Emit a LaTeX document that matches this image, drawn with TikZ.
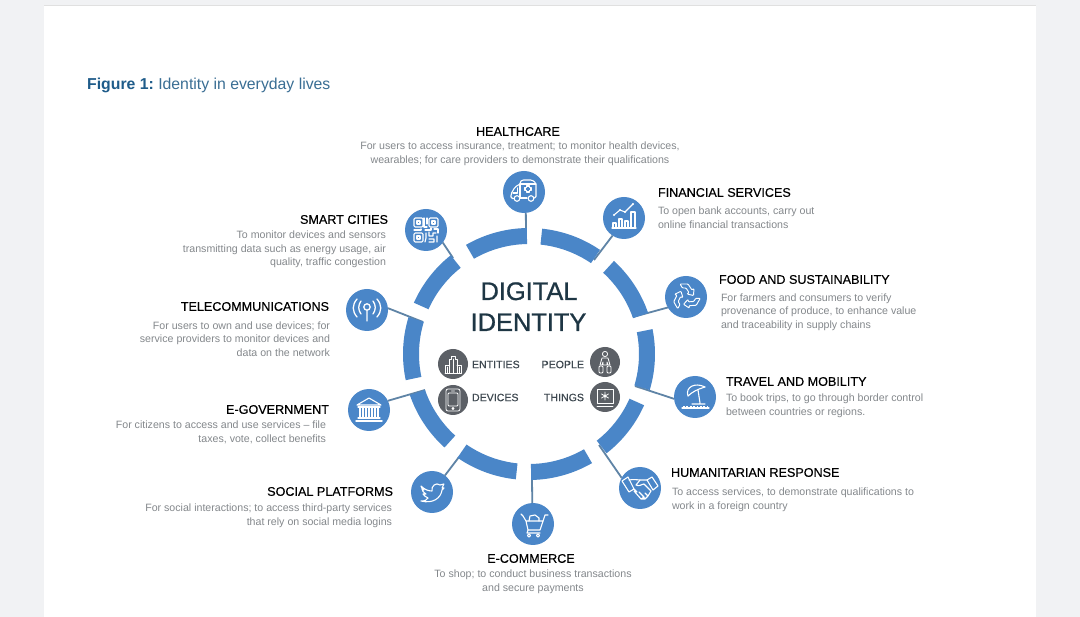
\documentclass[tikz,border=0pt]{standalone}
\usepackage{fontspec}
\setmainfont{Liberation Sans}
\newfontfamily\medfont[FakeBold=0.35]{Liberation Sans}
\newfontfamily\corefont[FakeBold=0.9]{Liberation Sans}
\usetikzlibrary{calc}
\definecolor{pagebg}{HTML}{F1F2F4}
\definecolor{ringblue}{HTML}{4A86C8}
\definecolor{linkcol}{HTML}{5F84A6}
\definecolor{darkcirc}{HTML}{5C6066}
\definecolor{bodygray}{HTML}{84888C}
\definecolor{titleblue}{HTML}{1F5C8A}
\definecolor{titlelight}{HTML}{3A6E94}
\definecolor{corecol}{HTML}{1E3644}
\definecolor{smallcol}{HTML}{3E4850}
\tikzset{
  hub/.style={circle,fill=ringblue,minimum size=42pt,inner sep=0pt,outer sep=0pt},
  kind/.style={circle,fill=darkcirc,minimum size=30pt,inner sep=0pt,outer sep=0pt},
  link/.style={draw=linkcol,line width=1.8pt},
  icon/.style={draw=white,line width=1.1pt,line join=round,line cap=round},
  head/.style={inner sep=0pt,outer sep=0pt,font=\fontsize{12.6}{14}\selectfont\medfont,text=black},
  body/.style={inner sep=0pt,outer sep=0pt,font=\fontsize{10.62}{13.6}\selectfont,text=bodygray},
  core/.style={inner sep=0pt,outer sep=0pt,font=\fontsize{25.4}{30}\selectfont\corefont,text=corecol},
  kindtext/.style={inner sep=0pt,outer sep=0pt,font=\fontsize{10.6}{13}\selectfont\medfont,text=smallcol},
}
\newcommand{\ringseg}[2]{%
  \fill[ringblue] ($(529,354)+(-#1:126)$) arc[start angle=-#1,end angle=-#2,radius=126]
    -- ($(529,354)+(-#2:110)$) arc[start angle=-#2,end angle=-#1,radius=110] -- cycle;}
\begin{document}
\begin{tikzpicture}[x=1pt,y=1pt,yscale=-1]
\useasboundingbox (0,0) rectangle (1080,617);
\fill[pagebg] (0,0) rectangle (1080,617);
\fill[white] (44,6) rectangle (1036,617);
\draw[black!12,line width=.8pt] (44,5.6) -- (1036,5.6);
% title
\node[anchor=base west,inner sep=0pt,font=\fontsize{15.8}{20}\selectfont] (title) at (87,90)
  {\textcolor{titleblue}{\bfseries Figure 1:}\hspace{-1.5pt} \textcolor{titlelight}{Identity in everyday lives}};
% hubs
\node[hub] (hc) at (524,192) {};
\node[hub] (fin) at (624,218) {};
\node[hub] (food) at (686,297) {};
\node[hub] (trav) at (695,397) {};
\node[hub] (hum) at (640,488) {};
\node[hub] (ecom) at (533,524) {};
\node[hub] (soc) at (432,492) {};
\node[hub] (gov) at (369,410) {};
\node[hub] (tel) at (367,310) {};
\node[hub] (city) at (426,230) {};
% link ends
\coordinate (hcE) at (526,232);
\coordinate (finE) at (594,260);
\coordinate (foodE) at (633,317);
\coordinate (travE) at (635,386);
\coordinate (humE) at (599,445);
\coordinate (ecomE) at (532,478);
\coordinate (socE) at (459,457);
\coordinate (govE) at (425,390);
\coordinate (telE) at (423,322);
\coordinate (cityE) at (453,258);
\draw[link] (hc.-85) -- (hcE);
\draw[link] (fin.237.7) -- (finE);
\draw[link] (food.210) -- (foodE);
\draw[link] (trav.185) -- (travE);
\draw[link] (hum.151) -- (humE);
\draw[link] (ecom.92) -- (ecomE);
\draw[link] (soc.52.6) -- (socE);
\draw[link] (gov.26.6) -- (govE);
\draw[link] (tel.5) -- (telE);
\draw[link] (city.-37) -- (cityE);
% ring
\ringseg{91}{120}
\ringseg{55.7}{84}
\ringseg{19}{47.6}
\ringseg{-16.6}{11.4}
\ringseg{-52}{-24}
\ringseg{-89}{-60}
\ringseg{-124.6}{-96}
\ringseg{-161}{-132.1}
\ringseg{-168}{-197}
\ringseg{128.4}{156}
% centre
\node[core,anchor=base] (c1) at (529,300) {DIGITAL};
\node[core,anchor=base] (c2) at (528.5,331) {IDENTITY};
\node[kind] (ent) at (453,364) {};
\node[kind] (peo) at (605,362) {};
\node[kind] (dev) at (453,400) {};
\node[kind] (thi) at (605,397) {};
\node[kindtext,anchor=west] (entT) at (472,364.5) {ENTITIES};
\node[kindtext,anchor=east] (peoT) at (584,364.5) {PEOPLE};
\node[kindtext,anchor=west] (devT) at (472,397.5) {DEVICES};
\node[kindtext,anchor=east] (thiT) at (584,397.5) {THINGS};
% texts
\node[head,anchor=center] (hcH) at (518,131.5) {HEALTHCARE};
\node[body,align=center,anchor=center] (hcB) at (520,154) {For users to access insurance,  treatment; to monitor health devices,\\wearables; for care providers to demonstrate their qualifications};
\node[head,anchor=west] (finH) at (658,192.5) {FINANCIAL SERVICES};
\node[body,align=left,anchor=west] (finB) at (658,218) {To open bank accounts, carry out\\online financial transactions};
\node[head,anchor=west] (foodH) at (719,279.5) {FOOD AND SUSTAINABILITY};
\node[body,align=left,anchor=west] (foodB) at (721,312) {For farmers and consumers to verify\\provenance of produce, to enhance value\\and traceability in supply chains};
\node[head,anchor=west] (travH) at (726,381.5) {TRAVEL AND MOBILITY};
\node[body,align=left,anchor=west] (travB) at (726,406) {To book trips, to go through border control\\between countries or regions.};
\node[head,anchor=west] (humH) at (671,472.5) {HUMANITARIAN RESPONSE};
\node[body,align=left,anchor=west] (humB) at (672,499.5) {To access services, to demonstrate qualifications to\\work in a foreign country};
\node[head,anchor=center] (ecomH) at (531,558.5) {E-COMMERCE};
\node[body,align=center,anchor=center] (ecomB) at (533,582) {To shop; to conduct business transactions\\and secure payments};
\node[head,anchor=east] (socH) at (393,491.5) {SOCIAL PLATFORMS};
\node[body,align=right,anchor=east] (socB) at (392,516) {For social interactions; to access third-party services\\that rely on social media logins};
\node[head,anchor=east] (govH) at (329,409.5) {E-GOVERNMENT};
\node[body,align=right,anchor=east] (govB) at (326,432.5) {For citizens to access and use services – file\\taxes, vote, collect benefits};
\node[head,anchor=east] (telH) at (329,306.5) {TELECOMMUNICATIONS};
\node[body,align=right,anchor=east] (telB) at (330,339) {For users to own and use devices; for\\service providers to monitor devices and\\data on the network};
\node[head,anchor=east] (cityH) at (388,219.5) {SMART CITIES};
\node[body,align=right,anchor=east] (cityB) at (386,249.5) {To monitor devices and sensors\\transmitting data such as energy usage, air\\quality, traffic congestion};
% icons: ambulance
\begin{scope}[shift={(524,192)},icon]
\draw[rounded corners=1.5pt] (-4,-8) -- (-4,-10) -- (-2,-12) -- (8,-12) -- (12,-9) -- (12,6) -- (10.5,6);
\draw (-4,-8) -- (-4,6) (-4,-8) -- (12,-8);
\draw[rounded corners=1.5pt] (-4,-8) -- (-9,-5) -- (-13,2) -- (-13,6.5) -- (-10,6.5);
\draw (-4,6) -- (3,6);
\draw (-7,6.5) circle (2.8) (7,6.5) circle (2.8);
\draw (2.5,-6) -- (5.5,-6) -- (5.5,-4.5) -- (7,-4.5) -- (7,-1.5) -- (5.5,-1.5) -- (5.5,0) -- (2.5,0) -- (2.5,-1.5) -- (1,-1.5) -- (1,-4.5) -- (2.5,-4.5) -- cycle;
\draw (-11,1) -- (-6.5,1) -- (-6.5,-4);
\end{scope}
% chart
\begin{scope}[shift={(624,218)},icon]
\draw (-12,10) -- (12,10);
\draw (-11,10) -- (-11,5) -- (-8,5) -- (-8,10);
\draw (-5,10) -- (-5,1) -- (-2,1) -- (-2,10);
\draw (1,10) -- (1,3) -- (4,3) -- (4,10);
\draw (7,10) -- (7,-6) -- (11,-6) -- (11,10);
\draw (-10,-3) -- (-4,-8) -- (1,-6) -- (9,-14);
\fill[white] (-10,-3) circle (1.2) (-4,-8) circle (1.2) (1,-6) circle (1.2) (9,-14) circle (1.2);
\end{scope}
% recycle
\begin{scope}[shift={(686,297)},icon,line width=.95pt]
\foreach \r in {0,120,240}{
\begin{scope}[rotate=\r]
\draw[rounded corners=.8pt] (-6,-13) -- (2,-13) -- (6,-7) -- (8,-8.5) -- (7.5,-1.5) -- (1,-3) -- (3,-4.5) -- (0,-9) -- (-3.5,-9) -- cycle;
\end{scope}}
\end{scope}
% umbrella
\begin{scope}[shift={(695,397)},icon]
\draw (-7,-1) .. controls (-10,-10) and (0,-15) .. (10,-10);
\draw (-7,-1) .. controls (-3,-5) and (3,-8) .. (10,-10);
\draw (3,-7) -- (5,6) (-3,7) -- (10,7);
\draw[line width=1.8pt,dash pattern=on 1.8pt off 1.6pt,line cap=butt] (-12,9.5) -- (13,9.5);
\draw (-13,11) -- (14,11);
\end{scope}
% handshake
\begin{scope}[shift={(640,488)},icon]
\draw (-18,-7) -- (-12,-11) -- (-6,1) -- (-11,4) -- cycle;
\draw (18,-2) -- (12,-11) -- (7,-8) -- (13,2) -- cycle;
\draw (-11,-8) .. controls (-6,-9) and (-3,-8) .. (0,-8) -- (7,-8);
\draw (0,-8) -- (-4,-3) .. controls (-1,-1) and (2,-4) .. (4,-4) -- (11,3);
\draw (-6,1) -- (-3,4) (-6,3) -- (1,11) -- (4,9) -- (-1,4) (1,11) -- (5,11) -- (2,7) (5,11) -- (8,8) -- (5,5) (8,8) -- (11,3);
\end{scope}
% cart
\begin{scope}[shift={(533,524)},icon]
\draw (-10,-8) -- (-7,-3) -- (10,-3) -- (7,6) -- (-5,6) -- (-7,-3);
\draw (-10,-8) -- (-12,-10) (10,-3) -- (12,-9) -- (15,-9);
\draw (-6,9) -- (7,9) (-5,6) -- (-6,9);
\draw (-4,11.5) circle (1.6) (5,11.5) circle (1.6);
\draw (-4,-3) -- (-3,-8) -- (2,-9) -- (6,-6) -- (6,-3);
\end{scope}
% twitter
\begin{scope}[shift={(432,492)},icon]
\draw (-11,-6) .. controls (-7,-2) and (-3,-1) .. (0,-1)
  .. controls (-1,-6) and (4,-10) .. (8,-7) -- (12,-8) -- (10,-4) -- (12,-4) -- (10,-2)
  .. controls (9,6) and (1,12) .. (-11,9) .. controls (-7,9) and (-5,8) .. (-4,6)
  .. controls (-7,5) and (-8,3) .. (-9,2) -- (-6,2) .. controls (-9,0) and (-10,-2) .. (-10,-3)
  -- (-8,-2) .. controls (-10,-4) and (-11,-4) .. (-11,-6) -- cycle;
\end{scope}
% bank
\begin{scope}[shift={(369,410)},icon]
\draw (-12,-5) -- (0,-12) -- (12,-5) -- cycle;
\draw (-11,-3) -- (11,-3);
\foreach \x in {-9,-6,-3,0,3,6,9}{\draw (\x,-2) -- (\x,7);}
\draw (-11,8) -- (11,8);
\draw[line width=1.5pt] (-13,11) -- (13,11);
\end{scope}
% antenna
\begin{scope}[shift={(367,310)},icon,line width=1.3pt]
\draw (0,-3) circle (3.2) (0,0) -- (0,11);
\draw (-6,-9) .. controls (-9,-5) and (-9,0) .. (-6,4);
\draw (6,-9) .. controls (9,-5) and (9,0) .. (6,4);
\draw (-10,-11) .. controls (-15,-5) and (-15,1) .. (-10,7);
\draw (10,-11) .. controls (15,-5) and (15,1) .. (10,7);
\end{scope}
% qr
\begin{scope}[shift={(426,230)},icon]
\draw[rounded corners=1.2pt] (-12,-12) rectangle (-3,-3) (3,-12) rectangle (12,-3) (-12,3) rectangle (-3,12);
\draw (-9,-9) rectangle (-6,-6) (6,-9) rectangle (9,-6) (-9,6) rectangle (-6,9);
\draw (-12,0) -- (-5,0) -- (-5,-1) (-2,-12) -- (-2,-3) -- (1,-3) (1,-12) -- (1,-6) (-1,0) -- (5,0) -- (5,-2) (8,-1) -- (12,-1) -- (12,3);
\draw (0,3) -- (0,8) -- (-1,12) (3,2) -- (3,6) -- (7,6) -- (7,3) -- (10,3) (3,9) -- (8,9) -- (8,12) -- (3,12) (11,6) -- (11,12);
\end{scope}
% small icons
\begin{scope}[shift={(453,364)},icon,line width=.8pt]
\draw (-8,9) -- (-8,1) -- (-4,1) (-4,9) -- (-4,-5) -- (-2,-5) -- (-2,-8) -- (2,-8) -- (2,-5) -- (4,-5) -- (4,9);
\draw (4,1) -- (8,1) -- (8,9) -- (-8,9) (0,-5) -- (0,9) (-6,3) -- (-6,9) (6,3) -- (6,9);
\end{scope}
\begin{scope}[shift={(605,362)},icon,line width=.8pt]
\draw (0,-8) circle (2.6);
\draw (-3,-4) -- (3,-4) -- (5,3) -- (3,3) -- (2,0) -- (2,3) -- (-2,3) -- (-2,0) -- (-3,3) -- (-5,3) -- cycle;
\draw[rounded corners=1pt] (-6,4) rectangle (-2,11) (2,4) rectangle (6,11);
\end{scope}
\begin{scope}[shift={(453,400)},icon,line width=.8pt]
\draw[rounded corners=2pt] (-7,-11) rectangle (7,11);
\draw[rounded corners=1pt] (-5,-7) rectangle (5,6);
\draw (-1.5,-9) -- (1.5,-9) (0,8.5) circle (1);
\end{scope}
\begin{scope}[shift={(605,397)},icon,line width=.8pt]
\draw (-8,-8) rectangle (8,6) (-8,9) -- (8,9);
\draw (0,-5) -- (0,3) (-3.5,-3) -- (3.5,1) (-3.5,1) -- (3.5,-3);
\fill[white] (0,-1) circle (1.6);
\end{scope}
\end{tikzpicture}
\end{document}
